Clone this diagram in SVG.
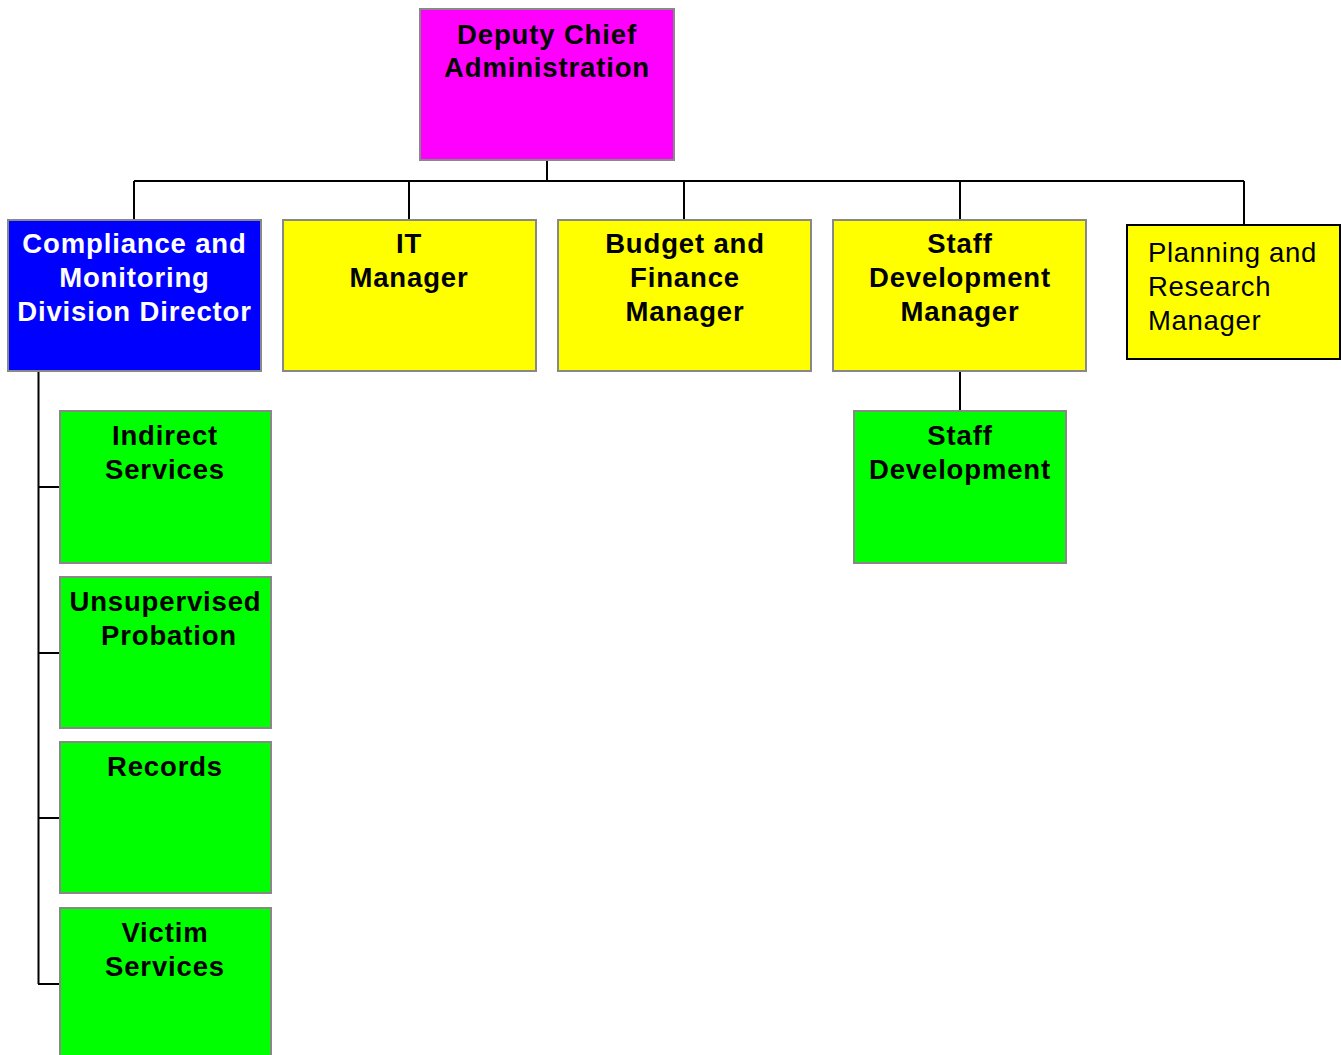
<svg xmlns="http://www.w3.org/2000/svg" width="1341" height="1055" viewBox="0 0 1341 1055">
<style>
.box{stroke:#888888;stroke-width:2}
.t{font-family:"Liberation Sans",Arial,sans-serif;font-size:27.5px;font-weight:bold;text-anchor:middle;letter-spacing:0.85px;fill:#000}
.w{fill:#fff}
.r{font-family:"Liberation Sans",Arial,sans-serif;font-size:27.5px;letter-spacing:0.7px;fill:#000}
.c{stroke:#000;stroke-width:2;fill:none}
</style>
<rect width="1341" height="1055" fill="#fff"/>
<g id="connectors">
<path class="c" d="M547 161V181M134 181H1244M134 181V220M409 181V220M684 181V220M960 181V220M1244 181V229"/>
<path class="c" d="M960 372V411"/>
<path class="c" d="M38.5 372V984M38 487H60M38 653H60M38 818H60M38 984H60"/>
</g>
<g id="deputy-chief">
<rect class="box" x="420" y="9" width="254" height="151" fill="#FF00FF"/>
<text class="t" x="547" y="44">Deputy Chief</text>
<text class="t" x="547" y="77">Administration</text>
</g>
<g id="compliance">
<rect class="box" x="8" y="220" width="253" height="151" fill="#0000FF"/>
<text class="t w" x="134.5" y="253">Compliance and</text>
<text class="t w" x="134.5" y="287">Monitoring</text>
<text class="t w" x="134.5" y="321">Division Director</text>
</g>
<g id="it-manager">
<rect class="box" x="283" y="220" width="253" height="151" fill="#FFFF00"/>
<text class="t" x="409" y="253">IT</text>
<text class="t" x="409" y="287">Manager</text>
</g>
<g id="budget">
<rect class="box" x="558" y="220" width="253" height="151" fill="#FFFF00"/>
<text class="t" x="685" y="253">Budget and</text>
<text class="t" x="685" y="287">Finance</text>
<text class="t" x="685" y="321">Manager</text>
</g>
<g id="staff-dev-manager">
<rect class="box" x="833" y="220" width="253" height="151" fill="#FFFF00"/>
<text class="t" x="960" y="253">Staff</text>
<text class="t" x="960" y="287">Development</text>
<text class="t" x="960" y="321">Manager</text>
</g>
<g id="planning">
<rect x="1127" y="225" width="213" height="134" fill="#FFFF00" stroke="#000" stroke-width="2"/>
<text class="r" x="1148" y="262">Planning and</text>
<text class="r" x="1148" y="296">Research</text>
<text class="r" x="1148" y="330">Manager</text>
</g>
<g id="indirect-services">
<rect class="box" x="60" y="411" width="211" height="152" fill="#00FF00"/>
<text class="t" x="165" y="445">Indirect</text>
<text class="t" x="165" y="479">Services</text>
</g>
<g id="unsupervised-probation">
<rect class="box" x="60" y="577" width="211" height="151" fill="#00FF00"/>
<text class="t" x="165.5" y="611">Unsupervised</text>
<text class="t" x="169" y="645">Probation</text>
</g>
<g id="records">
<rect class="box" x="60" y="742" width="211" height="151" fill="#00FF00"/>
<text class="t" x="165" y="776">Records</text>
</g>
<g id="victim-services">
<rect class="box" x="60" y="908" width="211" height="152" fill="#00FF00"/>
<text class="t" x="165" y="942">Victim</text>
<text class="t" x="165" y="976">Services</text>
</g>
<g id="staff-development">
<rect class="box" x="854" y="411" width="212" height="152" fill="#00FF00"/>
<text class="t" x="960" y="445">Staff</text>
<text class="t" x="960" y="479">Development</text>
</g>
</svg>
